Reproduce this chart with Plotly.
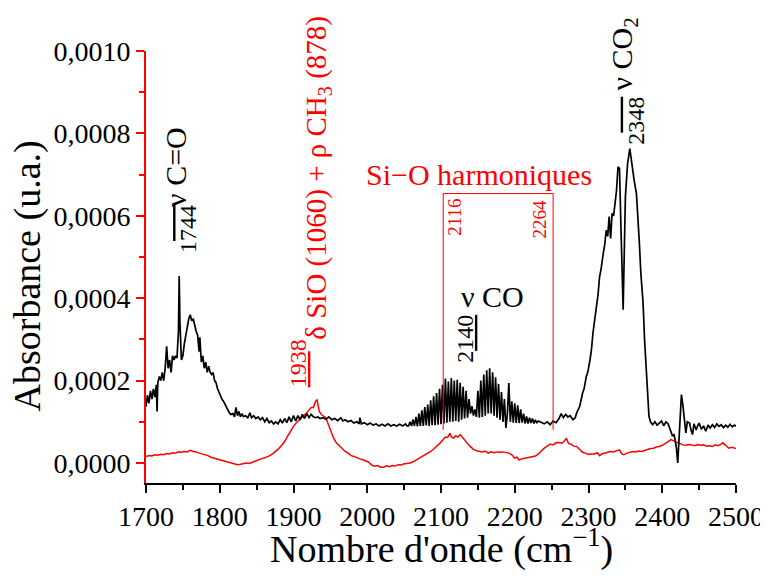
import numpy as np
import plotly.graph_objects as go

# ---------------- data (absorbance values in units of 1e-4) ----------------
black_wn = [1700, 1702, 1704, 1706, 1708, 1710, 1712, 1714, 1715, 1716, 1718, 1720, 1722, 1724, 1726, 1728, 1730,
            1732, 1734, 1736, 1738, 1740, 1742, 1744, 1745, 1746, 1748, 1750, 1752, 1754, 1756, 1758, 1760, 1762,
            1764, 1766, 1768, 1770, 1772, 1773, 1775, 1777, 1779, 1781, 1783, 1785, 1787, 1789, 1791, 1793, 1795,
            1797, 1799, 1801, 1803, 1805, 1807, 1809, 1811, 1813, 1815, 1818, 1820, 1822, 1824, 1826, 1828, 1830,
            1832, 1835, 1838, 1841, 1843, 1846, 1849, 1852, 1855, 1858, 1861, 1864, 1867, 1870, 1873, 1876, 1879,
            1882, 1885, 1888, 1891, 1894, 1897, 1900, 1903, 1906, 1909, 1912, 1915, 1918, 1921, 1924, 1927, 1930,
            1933, 1936, 1940, 1944, 1948, 1952, 1956, 1960, 1964, 1967, 1970, 1974, 1978, 1982, 1986, 1989, 1990,
            1992, 1996, 2000, 2004, 2008, 2012, 2016, 2020, 2024, 2028, 2032, 2036, 2040, 2044, 2048, 2052, 2054,
            2056, 2058, 2060, 2062, 2064, 2066, 2068, 2070, 2072, 2074, 2076, 2078, 2080, 2082, 2084, 2086, 2088,
            2090, 2092, 2094, 2096, 2098, 2100, 2102, 2104, 2106, 2108, 2110, 2112, 2114, 2116, 2118, 2120, 2122,
            2124, 2126, 2128, 2130, 2132, 2134, 2136, 2138, 2140, 2142, 2144, 2146, 2148, 2150, 2152, 2154, 2156,
            2158, 2160, 2162, 2164, 2166, 2168, 2170, 2172, 2174, 2176, 2178, 2180, 2182, 2184, 2186, 2188, 2190,
            2192, 2194, 2196, 2198, 2200, 2202, 2204, 2206, 2208, 2210, 2212, 2214, 2216, 2218, 2220, 2222, 2224,
            2226, 2228, 2230, 2232, 2236, 2240, 2244, 2248, 2252, 2256, 2260, 2263, 2266, 2269, 2272, 2275, 2279,
            2282, 2284, 2288, 2292, 2294, 2297, 2299, 2302, 2304, 2306, 2308, 2311, 2313, 2315, 2317, 2320, 2322,
            2324, 2326, 2328, 2330, 2332, 2334, 2336, 2338, 2340, 2342, 2344, 2347, 2350, 2353, 2356, 2358, 2360,
            2362, 2365, 2367, 2369, 2371, 2374, 2376, 2378, 2380, 2382, 2384, 2387, 2390, 2393, 2396, 2399, 2402,
            2405, 2408, 2410, 2412, 2414, 2416, 2418, 2419, 2421, 2423, 2425, 2426, 2428, 2430, 2432, 2434, 2437,
            2439, 2441, 2443, 2446, 2448, 2450, 2453, 2456, 2459, 2462, 2465, 2468, 2471, 2474, 2477, 2480, 2483,
            2486, 2489, 2492, 2495, 2498, 2500]
black_abs = [1.37, 1.65, 1.45, 1.75, 1.55, 1.8, 1.6, 1.9, 1.25, 1.95, 2.1, 2.0, 2.2, 2.0, 2.3, 2.83, 2.3,
             2.5, 2.2, 2.6, 2.5, 2.6, 2.55, 3.2, 4.54, 3.4, 2.5, 2.6, 2.9, 3.1, 3.4, 3.5, 3.6, 3.45,
             3.5, 3.3, 3.2, 3.1, 2.7, 3.05, 2.45, 2.6, 2.3, 2.45, 2.2, 2.35, 2.2, 2.15, 2.2, 2.0, 1.95,
             1.8, 1.7, 1.65, 1.55, 1.5, 1.42, 1.35, 1.28, 1.22, 1.18, 1.2, 1.12, 1.35, 1.15, 1.25, 1.12, 1.2,
             1.13, 1.15, 1.1, 1.22, 1.1, 1.15, 1.08, 1.12, 1.05, 1.1, 1.0, 1.08, 0.98, 1.02, 0.95, 1.0, 0.95,
             1.05, 0.97, 1.08, 0.98, 1.12, 1.0, 1.15, 1.02, 1.15, 1.05, 1.18, 1.08, 1.2, 1.1, 1.18, 1.12, 1.1,
             1.12, 1.08, 1.1, 1.06, 1.12, 1.05, 1.08, 1.03, 1.1, 1.02, 1.05, 1.0, 1.03, 0.97, 1.0, 0.95, 1.1,
             0.95, 0.98, 0.93, 0.97, 0.92, 0.95, 0.9, 0.94, 0.9, 0.95, 0.9, 0.93, 0.9, 0.94, 0.9, 0.95, 0.9,
             0.90, 1.00, 0.90, 1.05, 0.90, 1.12, 0.89, 1.2, 0.90, 1.28, 0.90, 1.36, 0.91, 1.42, 0.90, 1.52, 0.92,
             1.62, 0.92, 1.7, 0.93, 1.8, 0.94, 1.9, 0.96, 2.05, 0.98, 1.98, 1.0, 2.06, 1.0, 2.0, 1.02, 2.02,
             1.0, 1.95, 1.05, 1.85, 1.08, 1.75, 1.1, 1.55, 1.2, 1.38, 1.15, 1.3, 1.12, 1.75, 1.1, 2.0, 1.12,
             2.15, 1.15, 2.25, 1.2, 2.3, 1.2, 2.2, 1.15, 2.08, 1.1, 1.92, 1.05, 1.72, 1.0, 1.55, 0.85, 1.2,
             1.94, 1.0, 1.5, 0.98, 1.45, 0.97, 1.4, 0.97, 1.3, 0.98, 1.2, 0.96, 1.13, 0.96, 1.1, 0.97, 1.08,
             0.96, 1.05, 0.97, 1.02, 0.98, 0.95, 1.0, 0.93, 1.02, 0.98, 1.08, 1.2, 1.1, 1.18, 1.12, 1.15, 1.05,
             1.1, 1.22, 1.37, 1.7, 1.8, 2.1, 2.2, 2.5, 2.75, 3.15, 3.4, 3.88, 4.1, 4.52, 4.7, 5.09, 5.3,
             5.65, 5.5, 5.98, 5.45, 6.06, 6.0, 6.3, 6.62, 7.19, 7.15, 5.73, 3.72, 6.46, 7.27, 7.63, 7.35, 7.1,
             6.85, 6.54, 6.0, 5.33, 4.6, 3.88, 3.0, 2.26, 1.6, 1.13, 1.0, 0.93, 1.0, 0.92, 0.97, 1.02, 0.9,
             1.0, 0.95, 0.85, 0.75, 0.65, 0.7, 0.52, 0.4, 0.0, 0.57, 1.3, 1.66, 1.4, 1.13, 0.73, 1.0, 0.97,
             0.8, 0.69, 0.95, 0.8, 0.9, 0.97, 0.82, 0.9, 0.77, 0.92, 0.85, 0.93, 0.86, 0.95, 0.89, 0.93, 0.86,
             0.92, 0.87, 0.94, 0.88, 0.92, 0.89]

red_wn = [1700, 1704, 1708, 1712, 1716, 1720, 1724, 1728, 1732, 1736, 1740, 1744, 1748, 1752, 1756, 1760, 1764,
          1768, 1772, 1776, 1780, 1784, 1788, 1792, 1796, 1800, 1804, 1808, 1812, 1816, 1820, 1824, 1828, 1832,
          1836, 1840, 1844, 1848, 1852, 1856, 1860, 1864, 1868, 1872, 1876, 1880, 1884, 1888, 1892, 1896, 1900,
          1904, 1908, 1912, 1916, 1920, 1924, 1927, 1930, 1932, 1935, 1938, 1941, 1944, 1947, 1950, 1954, 1958,
          1962, 1966, 1970, 1974, 1978, 1982, 1986, 1990, 1994, 1998, 2002, 2006, 2010, 2014, 2018, 2022, 2026,
          2030, 2034, 2038, 2042, 2046, 2050, 2054, 2058, 2062, 2066, 2070, 2074, 2078, 2082, 2086, 2090, 2094,
          2098, 2102, 2106, 2109, 2112, 2114, 2117, 2120, 2123, 2126, 2129, 2132, 2135, 2138, 2141, 2144, 2148,
          2152, 2156, 2160, 2164, 2168, 2172, 2176, 2180, 2184, 2188, 2192, 2196, 2200, 2203, 2206, 2209, 2212,
          2216, 2220, 2224, 2228, 2232, 2236, 2240, 2244, 2248, 2252, 2256, 2260, 2264, 2268, 2270, 2273, 2276,
          2280, 2284, 2288, 2292, 2296, 2300, 2304, 2308, 2312, 2315, 2318, 2322, 2326, 2330, 2334, 2338, 2342,
          2345, 2348, 2352, 2356, 2360, 2364, 2368, 2372, 2376, 2380, 2384, 2388, 2392, 2396, 2400, 2404, 2408,
          2412, 2416, 2420, 2424, 2428, 2432, 2436, 2440, 2444, 2448, 2452, 2456, 2460, 2464, 2468, 2472, 2476,
          2480, 2482, 2486, 2490, 2494, 2498, 2500]
red_abs = [0.16, 0.18, 0.17, 0.2, 0.19, 0.21, 0.2, 0.23, 0.22, 0.25, 0.24, 0.27, 0.26, 0.28, 0.27, 0.31, 0.28,
           0.27, 0.24, 0.22, 0.2, 0.18, 0.14, 0.12, 0.1, 0.07, 0.05, 0.03, 0.02, -0.01, -0.02, -0.04, -0.03, -0.02,
           0.0, -0.01, 0.02, 0.05, 0.08, 0.1, 0.12, 0.15, 0.18, 0.23, 0.28, 0.35, 0.43, 0.52, 0.65, 0.78, 0.89,
           0.98, 1.06, 1.12, 1.18, 1.28, 1.35, 1.35, 1.5, 1.53, 1.25, 1.17, 1.14, 1.1, 0.95, 0.8, 0.62, 0.49,
           0.42, 0.33, 0.28, 0.24, 0.18, 0.16, 0.12, 0.1, 0.08, 0.05, 0.02, -0.05, -0.08, -0.06, -0.1, -0.1, -0.07,
           -0.09, -0.06, -0.07, -0.04, -0.05, -0.02, -0.01, 0.0, 0.03, 0.07, 0.1, 0.14, 0.18, 0.23, 0.28, 0.34, 0.4,
           0.47, 0.55, 0.63, 0.62, 0.72, 0.64, 0.6, 0.66, 0.63, 0.69, 0.62, 0.58, 0.5, 0.43, 0.38, 0.33, 0.3,
           0.29, 0.27, 0.29, 0.24, 0.27, 0.25, 0.27, 0.26, 0.27, 0.25, 0.24, 0.2, 0.12, 0.14, 0.07, 0.1, 0.11,
           0.12, 0.14, 0.15, 0.17, 0.22, 0.3, 0.36, 0.41, 0.46, 0.44, 0.49, 0.5, 0.48, 0.55, 0.6, 0.47, 0.46,
           0.41, 0.4, 0.33, 0.26, 0.24, 0.21, 0.22, 0.22, 0.25, 0.18, 0.22, 0.25, 0.26, 0.28, 0.27, 0.3, 0.32,
           0.22, 0.2, 0.24, 0.26, 0.28, 0.27, 0.29, 0.28, 0.31, 0.33, 0.35, 0.36, 0.39, 0.4, 0.43, 0.47, 0.52,
           0.57, 0.53, 0.5, 0.46, 0.44, 0.43, 0.45, 0.44, 0.42, 0.45, 0.43, 0.44, 0.41, 0.42, 0.4, 0.44, 0.42,
           0.46, 0.49, 0.43, 0.36, 0.38, 0.36, 0.35]

y_tickvals = [0.0, 0.0002, 0.0004, 0.0006, 0.0008, 0.0010]
y_ticktext = ["0,0000", "0,0002", "0,0004", "0,0006", "0,0008", "0,0010"]
x_tickvals = [1700, 1800, 1900, 2000, 2100, 2200, 2300, 2400, 2500]

SCALE = 1e-4
FONT = "Liberation Serif"
RED = "#ff0000"

fig = go.Figure()
fig.add_trace(go.Scatter(x=red_wn, y=np.array(red_abs) * SCALE, mode="lines",
                         line=dict(color=RED, width=1.5), showlegend=False))
fig.add_trace(go.Scatter(x=black_wn, y=np.array(black_abs) * SCALE, mode="lines",
                         line=dict(color="black", width=1.7), showlegend=False))

# bracket for the Si-O harmonics region
fig.add_shape(type="path", xref="x", yref="y",
              path="M 2103 0.0000807 L 2103 0.000654 L 2252 0.000654 L 2252 0.0000807",
              line=dict(color=RED, width=1))

ann = []
def A(text, x, y, size, color="black", angle=-90, xa="center", ya="middle", xref="x", yref="y"):
    ann.append(dict(text=text, x=x, y=y, xref=xref, yref=yref, showarrow=False,
                    textangle=angle, xanchor=xa, yanchor=ya,
                    font=dict(family=FONT, size=size, color=color)))

A("ν C=O", 1739, 0.00082, 30, ya="top")
A('1<span style="text-decoration:overline">744</span>', 1757, 0.000505, 24, ya="bottom")
A("δ SiO (1060) + ρ CH<sub>3</sub> (878)", 1933, 0.000294, 29, color=RED, ya="bottom")
A('<u>193</u>8', 1905.6, 0.000178, 24, color=RED, ya="bottom")
A("Si−O harmoniques", 2151, 0.000700, 30, color=RED, angle=0)
A("2116", 2119, 0.000645, 19, color=RED, ya="top")
A("2264", 2234, 0.000645, 19, color=RED, ya="top")
A('2<u>140</u>', 2132.4, 0.000238, 24, ya="bottom")
A("ν CO", 2170, 0.000405, 30, angle=0)
A("ν CO<sub>2</sub>", 2348, 0.0009, 30, ya="bottom")
A('2<span style="text-decoration:overline">348</span>', 2364, 0.000767, 24, ya="bottom")
# axis titles
A("Nombre d'onde (cm<sup>−1</sup>)", 0.5, -0.146, 38, angle=0, xref="paper", yref="paper")
A("Absorbance (u.a.)", -0.200, 0.478, 38, xref="paper", yref="paper")

# the page body adds an 8 px margin, so the figure is 8 px smaller than the window
fig.update_layout(
    width=760, height=568,
    margin=dict(l=138, r=32, t=43, b=93),
    paper_bgcolor="white", plot_bgcolor="white",
    font=dict(family=FONT, color="black"),
    annotations=ann,
    xaxis=dict(range=[1700, 2500], tickvals=x_tickvals, showgrid=False, zeroline=False, automargin=False,
               showline=True, linecolor="black", linewidth=1.5,
               ticks="outside", ticklen=8, tickwidth=1.5, tickcolor="black",
               minor=dict(dtick=50, ticks="outside", ticklen=5, tickwidth=1.5, tickcolor="black"),
               tickfont=dict(family=FONT, size=28, color="black")),
    yaxis=dict(range=[-0.0000485, 0.0010], tickvals=y_tickvals, ticktext=y_ticktext,
               showgrid=False, zeroline=False, automargin=False,
               showline=True, linecolor=RED, linewidth=2,
               ticks="outside", ticklen=8, tickwidth=1.5, tickcolor=RED,
               minor=dict(dtick=0.0001, tick0=0, ticks="outside", ticklen=5, tickwidth=1.5, tickcolor=RED),
               tickfont=dict(family=FONT, size=28, color="black")),
)

fig.write_html("out.html")
